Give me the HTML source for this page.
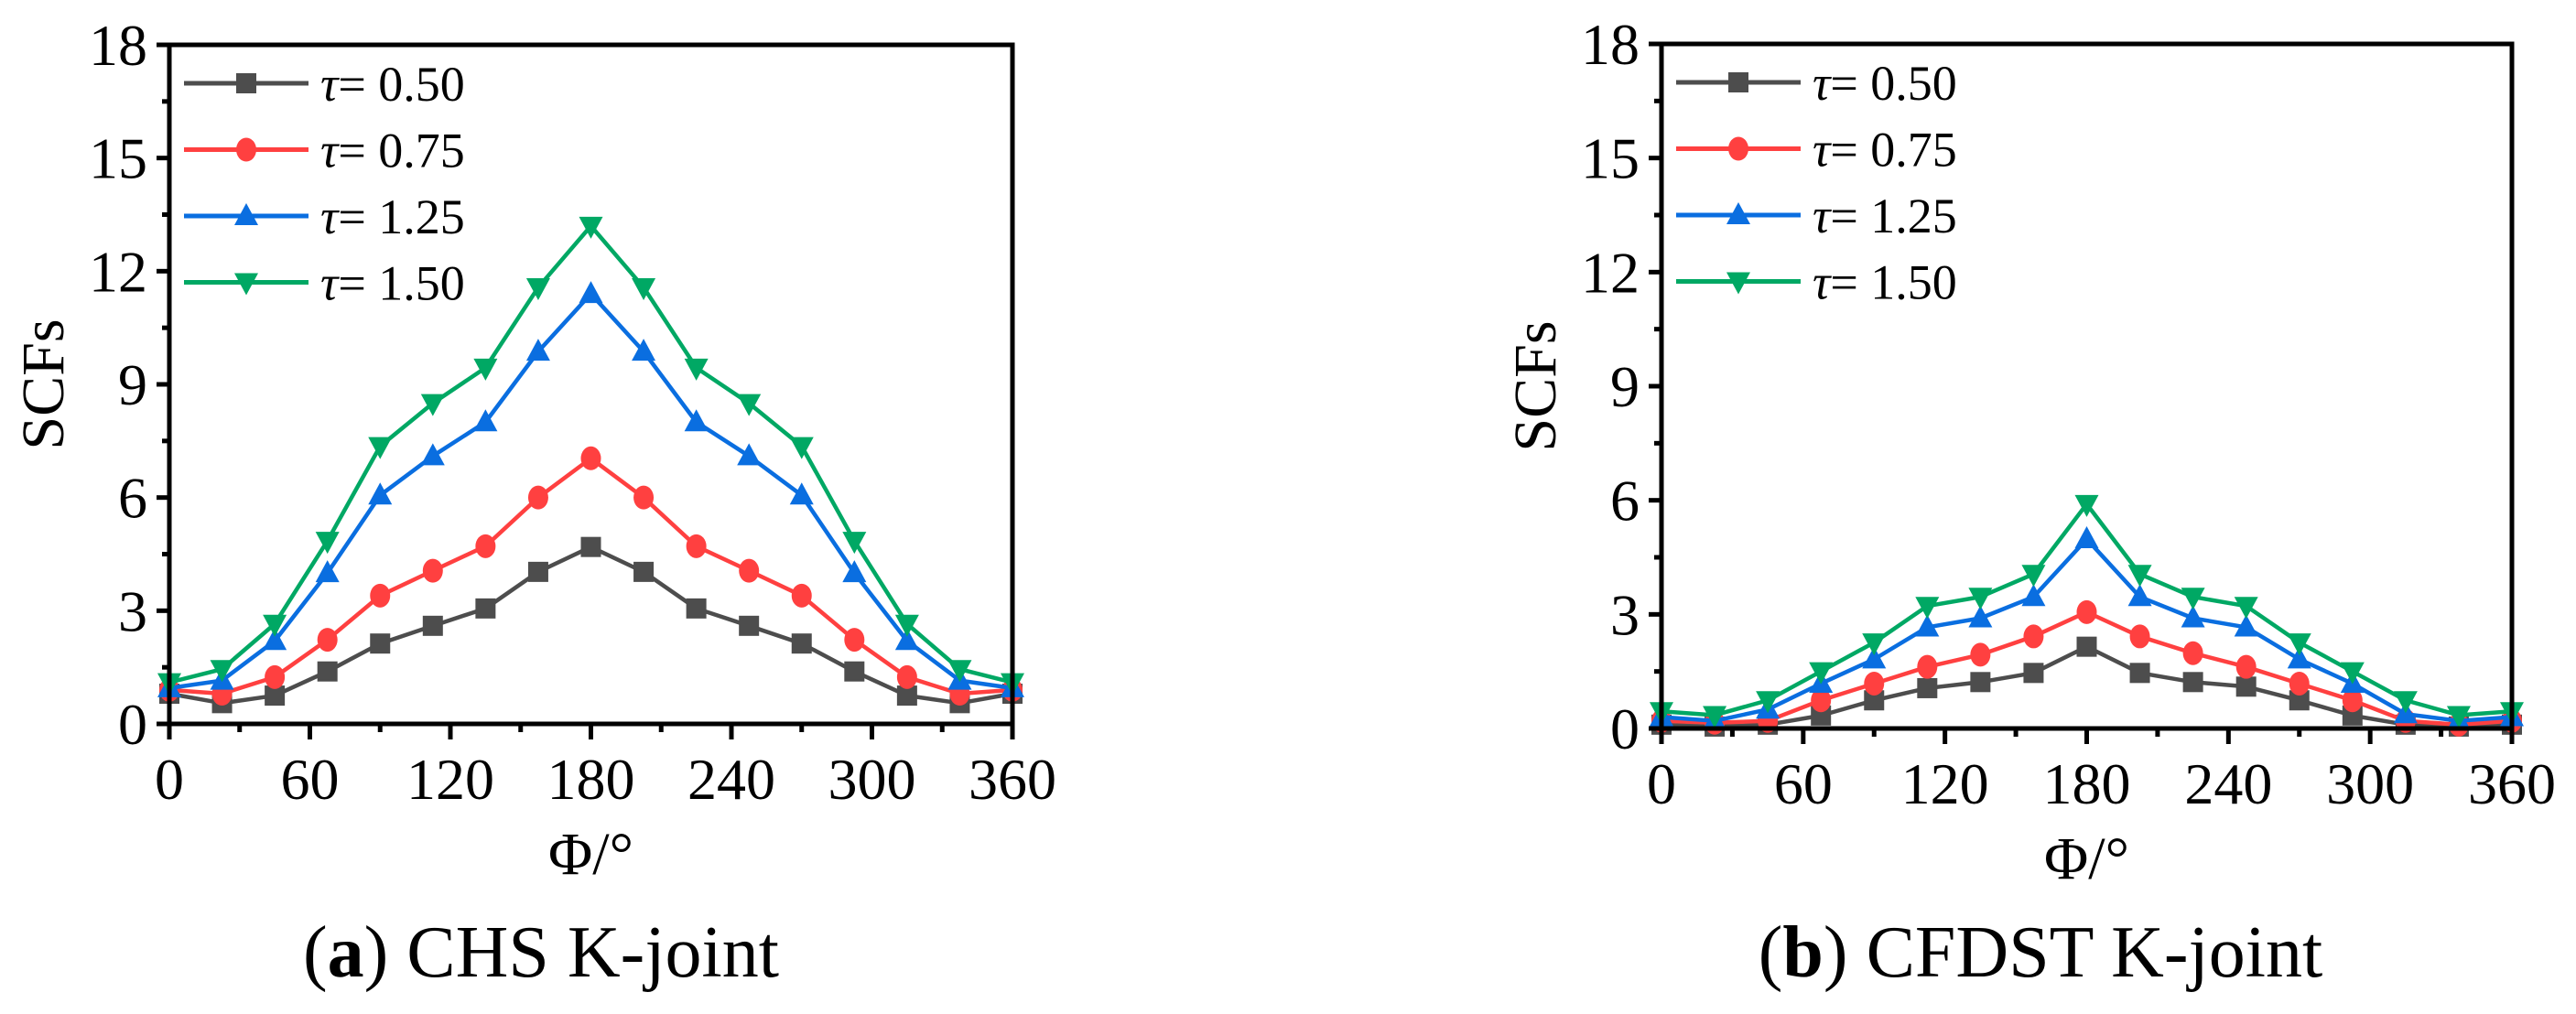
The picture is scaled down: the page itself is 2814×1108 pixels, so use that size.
<!DOCTYPE html>
<html><head><meta charset="utf-8">
<style>
html,body{margin:0;padding:0;background:#fff;}
svg{display:block;}
text{font-family:"Liberation Serif",serif;fill:#000;}
</style></head>
<body>
<svg id="fig" width="2814" height="1108" viewBox="0 0 2814 1108" xmlns="http://www.w3.org/2000/svg"></svg>
<script>
const angles = [0,22.5,45,67.5,90,112.5,135,157.5,180,202.5,225,247.5,270,292.5,315,337.5,360];
const seriesNames = ["\u03c4= 0.50","\u03c4= 0.75","\u03c4= 1.25","\u03c4= 1.50"];
const xTicks = [0,60,120,180,240,300,360];
const yTicks = [0,3,6,9,12,15,18];
// Panel (a) CHS K-joint
const chs050 = [0.8,0.55,0.75,1.39,2.13,2.6,3.06,4.03,4.69,4.03,3.06,2.6,2.13,1.39,0.75,0.55,0.8];
const chs075 = [0.9,0.8,1.24,2.23,3.4,4.06,4.71,6.0,7.04,6.0,4.71,4.06,3.4,2.23,1.24,0.8,0.9];
const chs125 = [0.95,1.15,2.2,4.0,6.06,7.1,8.0,9.87,11.4,9.87,8.0,7.1,6.06,4.0,2.2,1.15,0.95];
const chs150 = [1.1,1.45,2.65,4.85,7.36,8.5,9.44,11.57,13.2,11.57,9.44,8.5,7.36,4.85,2.65,1.45,1.1];
// Panel (b) CFDST K-joint
const cfd050 = [0.1,0.05,0.1,0.34,0.74,1.06,1.22,1.46,2.15,1.46,1.22,1.1,0.74,0.34,0.1,0.05,0.1];
const cfd075 = [0.2,0.15,0.2,0.74,1.18,1.62,1.94,2.42,3.06,2.42,1.98,1.62,1.18,0.74,0.2,0.1,0.2];
const cfd125 = [0.3,0.2,0.5,1.18,1.82,2.66,2.9,3.46,4.98,3.46,2.9,2.66,1.82,1.18,0.38,0.2,0.3];
const cfd150 = [0.45,0.35,0.74,1.5,2.26,3.22,3.46,4.06,5.9,4.06,3.46,3.22,2.26,1.5,0.74,0.35,0.45];

const NS="http://www.w3.org/2000/svg";
const svg=document.getElementById('fig');
const colors=["#4d4d4d","#ff4040","#0a6ee0","#00a864"];
const markers=["square","circle","up","down"];
function mk(tag,attrs,parent){const e=document.createElementNS(NS,tag);for(const k in attrs)e.setAttribute(k,attrs[k]);(parent||svg).appendChild(e);return e;}
function marker(g,type,cx,cy,c){
  const s=11;let e;
  if(type==="square"){e=mk('rect',{x:cx-s,y:cy-s,width:2*s,height:2*s,fill:c},g);}
  else if(type==="circle"){e=mk('ellipse',{cx:cx,cy:cy,rx:s,ry:s+2,fill:c},g);}
  else if(type==="up"){e=mk('polygon',{points:`${cx},${cy-14} ${cx+13},${cy+10} ${cx-13},${cy+10}`,fill:c},g);}
  else {e=mk('polygon',{points:`${cx},${cy+14} ${cx+13},${cy-10} ${cx-13},${cy-10}`,fill:c},g);}
  
  
}
function panel(id,L,R,T,B,data,caption,capBold,capRest,capX,titleX){
  const g=mk('g',{});
  
  
  const xs=v=>L+(v/360)*(R-L);
  const ys=v=>B-(v/18)*(B-T);
  data.forEach((arr,i)=>{
    const sg=mk('g',{},g);
    
    
    const pts=arr.map((v,j)=>xs(angles[j])+','+ys(v)).join(' ');
    const pl=mk('polyline',{points:pts,fill:'none',stroke:colors[i],'stroke-width':4.5,'stroke-linejoin':'round'},sg);
    
    
    arr.forEach((v,j)=>marker(sg,markers[i],xs(angles[j]),ys(v),colors[i]));
  });
  const fr=mk('rect',{x:L,y:T,width:R-L,height:B-T,fill:'none',stroke:'#000','stroke-width':5},g);
  
  
  yTicks.forEach(v=>{
    const y=ys(v);
    mk('line',{x1:L-14,x2:L,y1:y,y2:y,stroke:'#000','stroke-width':5},g);
    const t=mk('text',{x:L-24,y:y+22,'font-size':64,'text-anchor':'end'},g);
    t.textContent=v;
    
    
  });
  for(let v=1.5;v<18;v+=3){const y=ys(v);mk('line',{x1:L-8,x2:L,y1:y,y2:y,stroke:'#000','stroke-width':5},g);}
  xTicks.forEach(v=>{
    const x=xs(v);
    mk('line',{x1:x,x2:x,y1:B,y2:B+17,stroke:'#000','stroke-width':5},g);
    const t=mk('text',{x:x,y:B+82,'font-size':64,'text-anchor':'middle'},g);
    t.textContent=v;
    
    
  });
  for(let v=30;v<360;v+=60){const x=xs(v);mk('line',{x1:x,x2:x,y1:B,y2:B+9,stroke:'#000','stroke-width':5},g);}
  const yt=mk('text',{x:titleX,y:(T+B)/2,'font-size':66,'text-anchor':'middle',transform:`rotate(-90 ${titleX} ${(T+B)/2})`,dy:22},g);
  yt.textContent='SCFs';
  
  
  const xt=mk('text',{x:(L+R)/2,y:B+164,'font-size':66,'text-anchor':'middle'},g);
  xt.textContent='\u03a6/\u00b0';
  
  
  const lg=mk('g',{},g);
  
  
  seriesNames.forEach((n,i)=>{
    const y=T+42+i*72.5;
    const e=mk('g',{},lg);
    
    
    mk('line',{x1:L+16,x2:L+152,y1:y,y2:y,stroke:colors[i],'stroke-width':5},e);
    marker(e,markers[i],L+84,y,colors[i]);
    const t=mk('text',{x:L+165,y:y+19,'font-size':54},e);
    const s1=mk('tspan',{'font-style':'italic'},t);s1.textContent='\u03c4';
    const s2=mk('tspan',{},t);s2.textContent=n.slice(1);
  });
  const c=mk('text',{x:capX,y:1067,'font-size':80,'text-anchor':'middle'},g);
  
  
  const c0=mk('tspan',{},c);c0.textContent='(';
  const c1=mk('tspan',{'font-weight':'bold'},c);c1.textContent=capBold;
  const c2=mk('tspan',{},c);c2.textContent=capRest;
}
panel('chart-chs-k-joint',185,1106,49,791,[chs050,chs075,chs125,chs150],'','a',') CHS K-joint',591,47);
panel('chart-cfdst-k-joint',1815,2744,48,796,[cfd050,cfd075,cfd125,cfd150],'','b',') CFDST K-joint',2229,1677);
</script>
</body></html>
